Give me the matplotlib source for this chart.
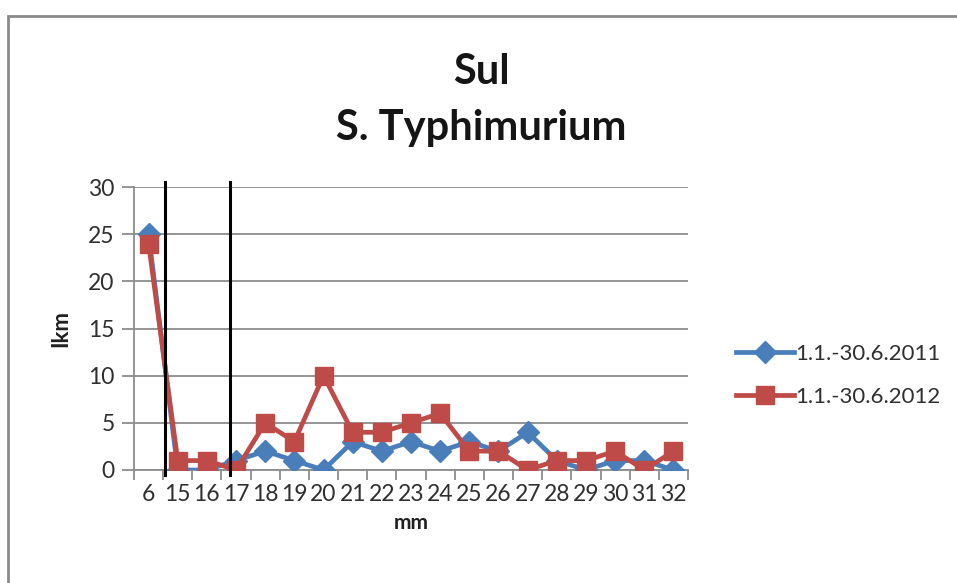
import numpy as np
import matplotlib
matplotlib.use('Agg')
from matplotlib import pyplot as plt
from matplotlib.patches import Rectangle

plt.rcParams['font.family'] = ['Lato', 'DejaVu Sans']

days = ['6', '15', '16', '17', '18', '19', '20', '21', '22', '23',
        '24', '25', '26', '27', '28', '29', '30', '31', '32']
counts_2011 = [25, 0, 0, 1, 2, 1, 0, 3, 2, 3, 2, 3, 2, 4, 1, 0, 1, 1, 0]
counts_2012 = [24, 1, 1, 0, 5, 3, 10, 4, 4, 5, 6, 2, 2, 0, 1, 1, 2, 0, 2]
label_2011 = '1.1.-30.6.2011'
label_2012 = '1.1.-30.6.2012'
# category positions of the two vertical marker lines
markers_at = [0.55, 2.8]

W, H = 957, 583
TXT = '#303030'
fig = plt.figure(figsize=(W / 100, H / 100), dpi=100)

# chart frame
fig.patches.append(Rectangle((8 / W, -0.05), 1.1, 1 - 16 / H + 0.05,
                             transform=fig.transFigure, fill=False,
                             edgecolor='#8a8a8a', linewidth=2))

ax = fig.add_axes([134 / W, 1 - 470 / H, (688 - 134) / W, (470 - 187) / H])
x = np.arange(len(days))

ax.plot(x, counts_2011, color='#4a7ebb', linewidth=3.4, marker='D',
        markersize=11, label=label_2011, zorder=3)
ax.plot(x, counts_2012, color='#be4b48', linewidth=3.4, marker='s',
        markersize=13.5, label=label_2012, zorder=4)

for xv in markers_at:
    ax.plot([xv, xv], [-0.5, 30.5], color='black', linewidth=2.2,
            clip_on=False, zorder=5)

ax.set_xlim(-0.5, len(days) - 0.5)
ax.set_ylim(0, 30)
ax.set_yticks(np.arange(0, 31, 5))
ax.yaxis.grid(True, color='#8c8c8c', linewidth=1.3)
ax.set_axisbelow(True)

ax.set_xticks(x)
ax.set_xticklabels(days)
ax.set_xticks(np.arange(-0.5, len(days), 1), minor=True)
ax.tick_params(axis='x', which='major', length=0, labelsize=16.5, pad=10,
               labelcolor=TXT)
ax.tick_params(axis='x', which='minor', length=7, color='#8c8c8c', width=1.3)
ax.tick_params(axis='y', length=9, color='#8c8c8c', width=1.3, labelsize=16.5,
               pad=5, labelcolor=TXT)

for s in ['top', 'right']:
    ax.spines[s].set_visible(False)
for s in ['left', 'bottom']:
    ax.spines[s].set_color('#8c8c8c')
    ax.spines[s].set_linewidth(1.3)

ax.set_xlabel('mm', fontsize=15, fontweight='bold', labelpad=6, color='#202020')
ax.set_ylabel('Ikm', fontsize=16, fontweight='bold', labelpad=12, color='#202020')

fig.text(481 / W, 1 - 100 / H, 'Sul\nS. Typhimurium', ha='center', va='center',
         fontsize=30, fontweight='bold', linespacing=1.55, color='#151515')

fig.legend(loc='center left', bbox_to_anchor=(725 / W, 1 - 375.5 / H),
           frameon=False, fontsize=16, handlelength=2.6, handletextpad=0.05,
           labelspacing=1.05, borderpad=0, labelcolor=TXT)

fig.savefig('out.png', dpi=100)
